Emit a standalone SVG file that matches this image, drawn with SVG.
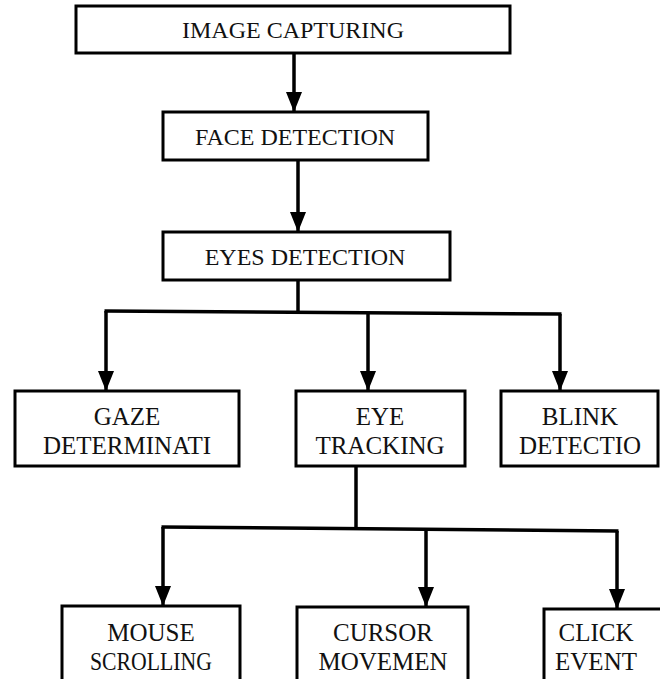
<svg xmlns="http://www.w3.org/2000/svg" width="660" height="679" viewBox="0 0 660 679">
<defs>
<style>
.box{fill:#fff;stroke:#000;stroke-width:3}
.t{font-family:"Liberation Serif","Times New Roman",serif;font-size:24px;fill:#111;text-anchor:middle}
.t2{font-family:"Liberation Serif","Times New Roman",serif;font-size:25px;fill:#111;text-anchor:middle}
.c{fill:none;stroke:#000;stroke-width:3.5}
</style>
<marker id="ah" viewBox="0 0 20 16" refX="20" refY="8" markerWidth="20" markerHeight="16" markerUnits="userSpaceOnUse" orient="auto">
<path d="M0,0 L20,8 L0,16 z" fill="#000"/>
</marker>
</defs>
<rect width="660" height="679" fill="#fff"/>
<g id="connectors">
<line class="c" x1="294" y1="53" x2="294" y2="112" marker-end="url(#ah)"/>
<line class="c" x1="298" y1="160" x2="298" y2="232" marker-end="url(#ah)"/>
<line class="c" x1="298" y1="280" x2="298" y2="311"/>
<line class="c" x1="104.5" y1="311" x2="561.5" y2="314"/>
<line class="c" x1="106" y1="311" x2="106" y2="391" marker-end="url(#ah)"/>
<line class="c" x1="368" y1="312" x2="368" y2="391" marker-end="url(#ah)"/>
<line class="c" x1="560" y1="314" x2="560" y2="391" marker-end="url(#ah)"/>
<line class="c" x1="356" y1="466" x2="356" y2="528"/>
<line class="c" x1="161.5" y1="527" x2="618.5" y2="531"/>
<line class="c" x1="163" y1="527" x2="163" y2="606" marker-end="url(#ah)"/>
<line class="c" x1="426" y1="529" x2="426" y2="607" marker-end="url(#ah)"/>
<line class="c" x1="617" y1="531" x2="617" y2="609" marker-end="url(#ah)"/>
</g>
<g id="image-capturing"><rect class="box" x="76" y="6" width="434" height="47"/><text class="t" x="293" y="38">IMAGE CAPTURING</text></g>
<g id="face-detection"><rect class="box" x="163" y="112" width="265" height="48"/><text class="t" x="295" y="145">FACE DETECTION</text></g>
<g id="eyes-detection"><rect class="box" x="163" y="232" width="287" height="48"/><text class="t" x="305" y="265">EYES DETECTION</text></g>
<g id="gaze"><rect class="box" x="15" y="391" width="224" height="75"/><text class="t2" x="127" y="425">GAZE</text><text class="t2" x="127" y="454">DETERMINATI</text></g>
<g id="eye-tracking"><rect class="box" x="296" y="391" width="169" height="75"/><text class="t2" x="380" y="425">EYE</text><text class="t2" x="380" y="454">TRACKING</text></g>
<g id="blink"><rect class="box" x="501" y="391" width="157" height="75"/><text class="t2" x="580" y="425">BLINK</text><text class="t2" x="580" y="454">DETECTIO</text></g>
<g id="mouse"><rect class="box" x="62" y="606" width="178" height="90"/><text class="t2" x="151" y="641">MOUSE</text><text class="t2" x="151" y="670" font-size="22" textLength="122" lengthAdjust="spacingAndGlyphs">SCROLLING</text></g>
<g id="cursor"><rect class="box" x="297" y="607" width="171" height="90"/><text class="t2" x="383" y="641">CURSOR</text><text class="t2" x="383" y="670">MOVEMEN</text></g>
<g id="click"><rect class="box" x="544" y="609" width="130" height="90"/><text class="t2" x="596" y="641">CLICK</text><text class="t2" x="596" y="670">EVENT</text></g>
</svg>
